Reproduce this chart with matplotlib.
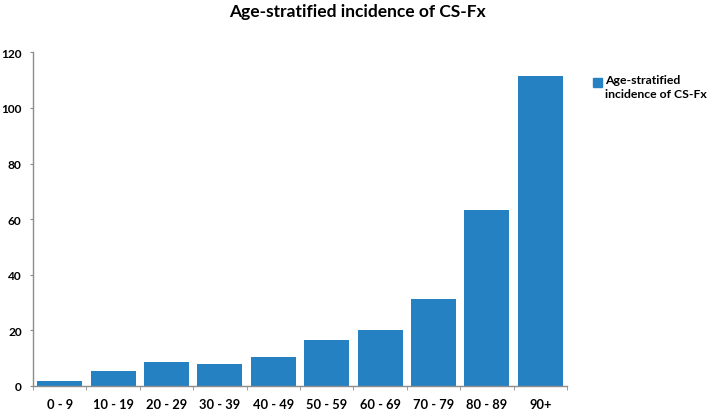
import numpy as np
import matplotlib.pyplot as plt
from matplotlib.patches import Rectangle

plt.rcParams['font.family'] = ['Lato', 'DejaVu Sans']
plt.rcParams['font.weight'] = 'bold'

ages = ['0 - 9', '10 - 19', '20 - 29', '30 - 39', '40 - 49',
        '50 - 59', '60 - 69', '70 - 79', '80 - 89', '90+']
incidence = [1.9, 5.5, 8.5, 7.9, 10.5, 16.5, 20.1, 31.2, 63.3, 111.3]
legend_label = 'Age-stratified\nincidence of CS-Fx'
bar_color = '#2681C3'

W, H = 708, 410
fig = plt.figure(figsize=(W / 100, H / 100), dpi=100)
ax = fig.add_axes([33 / W, 1 - 387 / H, (567 - 33) / W, (387 - 53.3) / H])

x = np.arange(len(ages))
ax.bar(x, incidence, width=0.84, color=bar_color)

ax.set_xlim(-0.5, len(ages) - 0.5)
ax.set_ylim(0, 120)
ax.set_yticks(np.arange(0, 121, 20))
ax.set_xticks(x)
ax.set_xticklabels(ages)
ax.set_xticks(np.arange(-0.5, len(ages)), minor=True)

for s in ['top', 'right']:
    ax.spines[s].set_visible(False)
for s in ['left', 'bottom']:
    ax.spines[s].set_color('#8c8c8c')
    ax.spines[s].set_linewidth(1)

ax.tick_params(axis='x', which='major', length=0, pad=8.5, labelsize=9.3)
ax.tick_params(axis='x', which='minor', length=3, color='#8c8c8c', direction='out')
ax.tick_params(axis='y', length=2.2, color='#8c8c8c', labelsize=8.6, pad=6)
for lab in ax.get_xticklabels() + ax.get_yticklabels():
    lab.set_fontweight('bold')

fig.text(0.505, 1 - 12 / H, 'Age-stratified incidence of CS-Fx', ha='center', va='center',
         fontsize=12.5, fontweight='bold')

# legend drawn by hand so the marker sits on the first line
fig.patches.append(Rectangle((593 / W, 1 - 88 / H), 9 / W, 9 / H,
                             transform=fig.transFigure, color=bar_color))
fig.text(605 / W, 1 - 75 / H, legend_label, ha='left', va='top',
         fontsize=8.8, fontweight='bold', linespacing=1.35)

fig.savefig('out.png', dpi=100)
